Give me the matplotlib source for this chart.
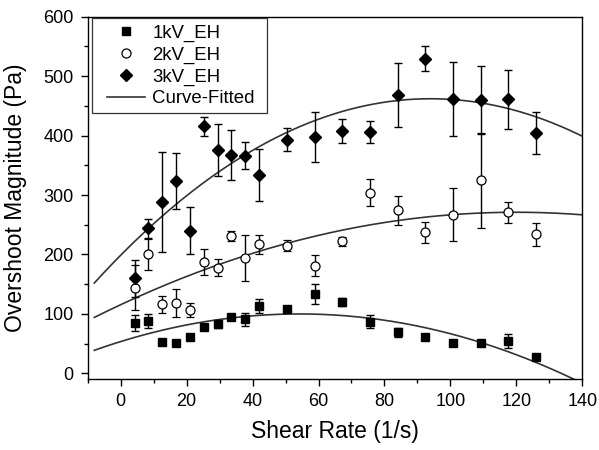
import numpy as np
import matplotlib
matplotlib.use('Agg')
import matplotlib.pyplot as plt
from matplotlib.ticker import MultipleLocator
from matplotlib.patches import Rectangle

plt.rcParams['font.family'] = ['Liberation Sans', 'DejaVu Sans']

# shear rate (1/s)
shear = [4.2, 8.4, 12.6, 16.8, 21.0, 25.2, 29.4, 33.6, 37.8, 42.0,
         50.4, 58.8, 67.2, 75.6, 84.0, 92.4, 100.8, 109.2, 117.6, 126.0]

y_1kv = [85, 88, 52, 51, 61, 78, 83, 95, 91, 113,
         109, 134, 120, 87, 69, 61, 51, 51, 54, 28]
e_1kv = [13, 12, 4, 4, 4, 5, 6, 5, 11, 12,
         5, 17, 6, 11, 7, 4, 4, 4, 12, 4]

y_2kv = [144, 200, 116, 118, 106, 188, 178, 231, 194, 217,
         215, 181, 222, 304, 274, 237, 267, 325, 271, 234]
e_2kv = [38, 26, 14, 24, 12, 22, 15, 9, 39, 16,
         9, 18, 8, 23, 24, 18, 45, 80, 18, 19]

y_3kv = [160, 244, 288, 323, 240, 416, 376, 367, 366, 334,
         393, 398, 408, 406, 468, 529, 461, 460, 461, 404]
e_3kv = [31, 16, 84, 47, 40, 16, 44, 42, 23, 44,
         19, 42, 20, 19, 54, 21, 62, 57, 50, 35]

# quadratic fit coefficients (x^2, x, 1)
fit_1kv = [-0.01583, 1.715, 53.5]
fit_2kv = [-0.0108, 2.592, 115.5]
fit_3kv = [-0.0298, 5.602, 198.7]
fit_range = (-8, 140)

W, H = 599, 450
fig = plt.figure(figsize=(W / 100, H / 100), dpi=100)
ax = fig.add_axes([0.1464, 0.1571, 0.8257, 0.8058])

xf = np.linspace(fit_range[0], fit_range[1], 300)
fit_lines = []
for coef in [fit_1kv, fit_2kv, fit_3kv]:
    ln, = ax.plot(xf, np.polyval(coef, xf), color='#333333', lw=1.2, zorder=2)
    fit_lines.append(ln)

eb = dict(ecolor='black', elinewidth=1, capsize=3.1, capthick=1,
          linestyle='none', zorder=3)
c1 = ax.errorbar(shear, y_1kv, yerr=e_1kv, fmt='s', ms=6, mfc='black',
                 mec='black', **eb)
c2 = ax.errorbar(shear, y_2kv, yerr=e_2kv, fmt='o', ms=6.5, mfc='white',
                 mec='black', mew=0.9, **eb)
c3 = ax.errorbar(shear, y_3kv, yerr=e_3kv, fmt='D', ms=6, mfc='black',
                 mec='black', **eb)

ax.set_xlim(-10, 140)
ax.set_ylim(-10, 600)
ax.xaxis.set_major_locator(MultipleLocator(20))
ax.xaxis.set_minor_locator(MultipleLocator(10))
ax.yaxis.set_major_locator(MultipleLocator(100))
ax.yaxis.set_minor_locator(MultipleLocator(50))
ax.tick_params(which='both', direction='out', top=False, right=False,
               width=1, labelsize=13, pad=5)
ax.tick_params(which='major', length=5)
ax.tick_params(which='minor', length=3)
for s in ax.spines.values():
    s.set_linewidth(1)

ax.set_xlabel('Shear Rate (1/s)', fontsize=16.5, labelpad=7)
ax.set_ylabel('Overshoot Magnitude (Pa)', fontsize=16.5, labelpad=12)

# legend box drawn by hand (wider side padding than top/bottom)
ax.add_patch(Rectangle((0.1531, 0.7482), 0.2922, 0.2111,
                       transform=fig.transFigure, fc='white',
                       ec='#333333', lw=0.9, zorder=4, clip_on=False))

leg_fs = 13.4
row_pitch = 21.8      # px between legend rows
first_row = 33.5      # px from top, centre of first row


def make_legend(top_px, spacing):
    lg = ax.legend([c1[0], c2[0], c3[0], fit_lines[0]],
                   ['1kV_EH', '2kV_EH', '3kV_EH', 'Curve-Fitted'],
                   loc='upper left', bbox_to_anchor=(106.7 / W, 1 - top_px / H),
                   bbox_transform=fig.transFigure,
                   fontsize=leg_fs, frameon=False, borderaxespad=0,
                   borderpad=0, handlelength=2.05, handletextpad=0.41,
                   labelspacing=spacing)
    lg.set_zorder(5)
    return lg


leg = make_legend(24, 0.1)
fig.canvas.draw()
fs_px = leg_fs * 100 / 72
text_h = leg.get_texts()[0].get_window_extent().height
spacing = max(0.0, (row_pitch - text_h) / fs_px)
leg = make_legend(24, spacing)
fig.canvas.draw()
bb = leg.get_texts()[0].get_window_extent()
centre = H - (bb.y0 + bb.y1) / 2
leg = make_legend(24 + first_row - centre, spacing)

fig.savefig('out.png', dpi=100)
